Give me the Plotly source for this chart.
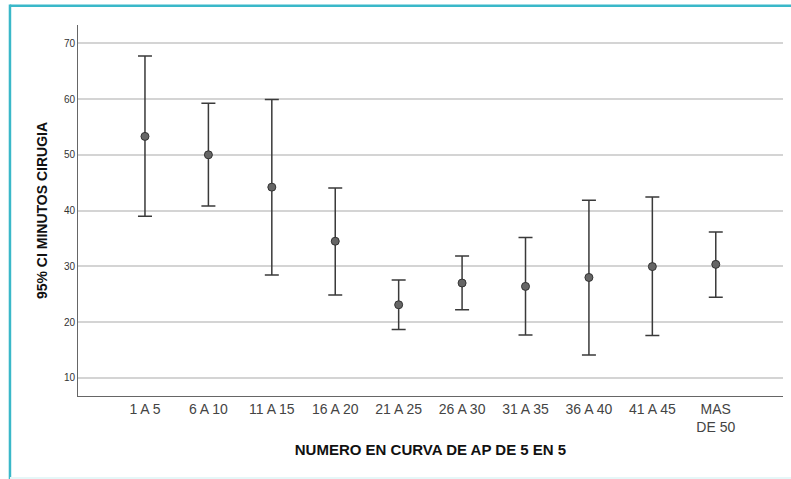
import plotly.graph_objects as go

categories = ["1 A 5", "6 A 10", "11 A 15", "16 A 20", "21 A 25", "26 A 30",
              "31 A 35", "36 A 40", "41 A 45", "MAS<br>DE 50"]
means = [53.3, 50.0, 44.2, 34.5, 23.1, 27.0, 26.4, 28.0, 29.95, 30.35]
upper = [67.7, 59.25, 59.9, 44.05, 27.55, 31.85, 35.15, 41.85, 42.45, 36.15]
lower = [39.0, 40.8, 28.45, 24.85, 18.65, 22.2, 17.7, 14.1, 17.6, 24.45]
y_ticks = [10, 20, 30, 40, 50, 60, 70]

x_idx = list(range(len(categories)))
err_plus = [u - m for u, m in zip(upper, means)]
err_minus = [m - l for m, l in zip(means, lower)]

fig = go.Figure()
fig.add_trace(go.Scatter(
    x=x_idx, y=means, mode="markers",
    marker=dict(size=8, color="#666666", line=dict(color="#333333", width=1)),
    error_y=dict(type="data", symmetric=False, array=err_plus, arrayminus=err_minus,
                 color="#3a3a3a", thickness=1.5, width=7),
    showlegend=False,
))

fig.update_layout(
    width=791, height=479,
    margin=dict(l=78, r=8, t=25, b=83),
    paper_bgcolor="white", plot_bgcolor="white",
    font=dict(family="Liberation Sans, Arial, sans-serif", color="#333333"),
    xaxis=dict(
        range=[-1.056, 10.06], tickmode="array", tickvals=x_idx, ticktext=categories,
        showgrid=False, zeroline=False, showline=True, linecolor="#666666", linewidth=1,
        ticks="", tickfont=dict(size=14, color="#444444"),
        title=dict(text="<b>NUMERO EN CURVA DE AP DE 5 EN 5</b>",
                   font=dict(size=15, color="#111111"), standoff=10),
    ),
    yaxis=dict(
        range=[6.74, 73.28], tickmode="array", tickvals=y_ticks,
        showgrid=True, gridcolor="#d4d4d4", gridwidth=1.5, zeroline=False,
        showline=True, linecolor="#666666", linewidth=1,
        ticks="", tickfont=dict(size=10, color="#333333"),
        title=dict(text="<b>95% CI MINUTOS CIRUGIA</b>",
                   font=dict(size=14, color="#111111"), standoff=12),
    ),
)

# frame around the picture
fig.add_shape(type="line", xref="paper", yref="paper", layer="above",
              x0=-0.0965, x1=1.02, y0=1.052, y1=1.052,
              line=dict(color="#3ab8c9", width=2.5))
fig.add_shape(type="line", xref="paper", yref="paper", layer="above",
              x0=-0.0965, x1=-0.0965, y0=1.055, y1=-0.23,
              line=dict(color="#3ab8c9", width=2.5))
fig.add_shape(type="line", xref="paper", yref="paper", layer="above",
              x0=-0.0965, x1=1.02, y0=-0.221, y1=-0.221,
              line=dict(color="#e6f7f8", width=2))

fig.write_html("out.html", config={"displayModeBar": False},
               post_script="document.body.style.margin='0';document.body.style.overflow='hidden';")
